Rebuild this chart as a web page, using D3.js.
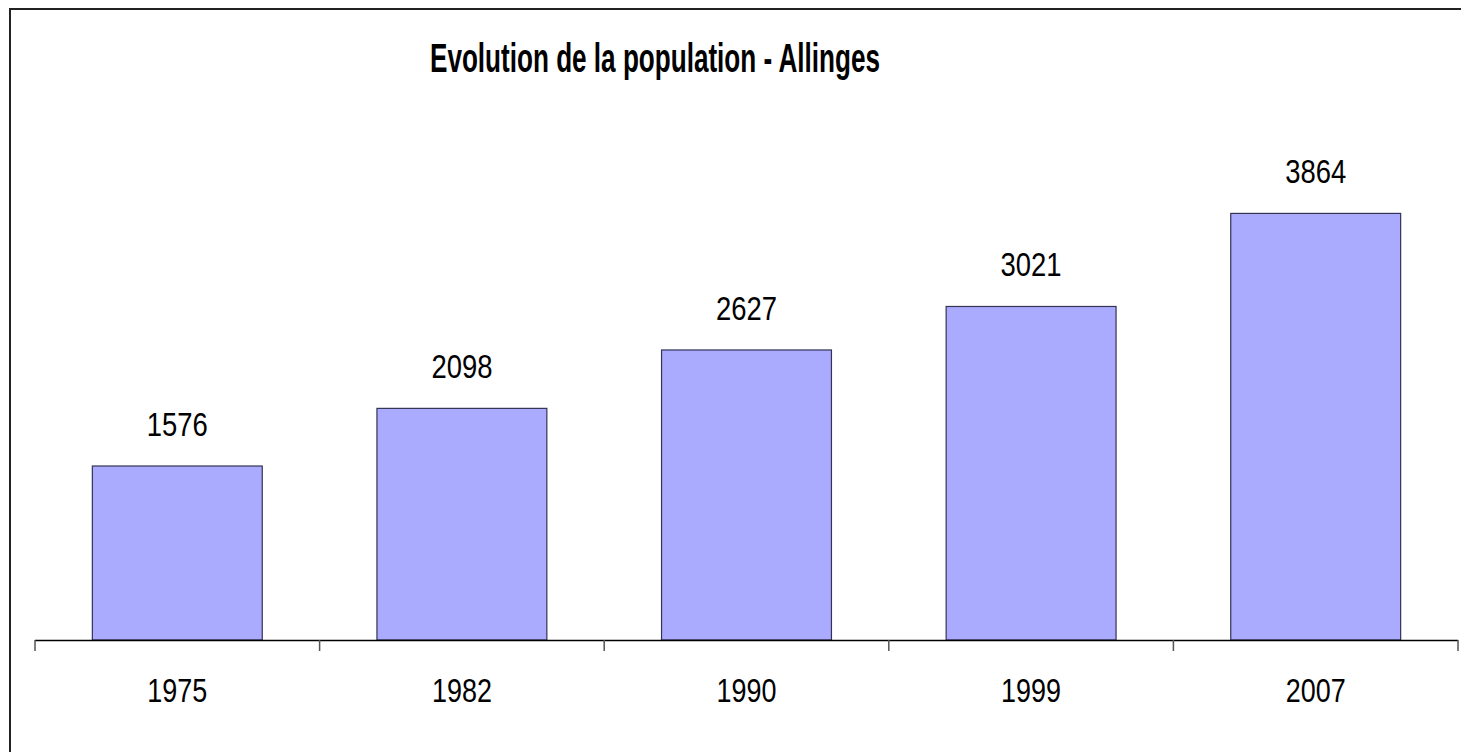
<!DOCTYPE html>
<html>
<head>
<meta charset="utf-8">
<script src="https://cdn.jsdelivr.net/npm/d3@7"></script>
<style>
  html, body { margin: 0; padding: 0; background: #fff; }
  svg { display: block; }
  text { font-family: "Liberation Sans", Arial, sans-serif; }
</style>
</head>
<body>
<svg id="chart" width="1461" height="752"></svg>
<script>
const years = ["1975", "1982", "1990", "1999", "2007"];
const population = [1576, 2098, 2627, 3021, 3864];
const titleText = "Evolution de la population - Allinges";

const svg = d3.select("#chart");
const W = 1461, H = 752;

svg.append("rect").attr("width", W).attr("height", H).attr("fill", "#fff");

// outer frame (cut off at right and bottom)
svg.append("path")
  .attr("d", `M10,${H + 5} L10,9 L${W + 5},9`)
  .attr("fill", "none").attr("stroke", "#222").attr("stroke-width", 2);

const x = d3.scaleBand().domain(years).range([35, 1458]).paddingInner(0.403).paddingOuter(0.2015);
const y = d3.scaleLinear().domain([0, 4000]).range([640, 640 - 4000 * 0.1104]);

svg.append("text")
  .attr("x", 655).attr("y", 72)
  .attr("text-anchor", "middle")
  .attr("font-weight", "bold")
  .attr("font-size", 41)
  .attr("textLength", 450)
  .attr("lengthAdjust", "spacingAndGlyphs")
  .attr("fill", "#000")
  .text(titleText);

svg.selectAll("rect.bar").data(population).join("rect")
  .attr("class", "bar")
  .attr("x", (d, i) => x(years[i]))
  .attr("y", d => y(d))
  .attr("width", x.bandwidth())
  .attr("height", d => y(0) - y(d))
  .attr("fill", "#AAAAFF")
  .attr("stroke", "#333355")
  .attr("stroke-width", 1.2);

svg.selectAll("text.val").data(population).join("text")
  .attr("class", "val")
  .attr("x", (d, i) => x(years[i]) + x.bandwidth() / 2)
  .attr("y", d => y(d) - 30)
  .attr("text-anchor", "middle")
  .attr("font-size", 33)
  .attr("textLength", 61)
  .attr("lengthAdjust", "spacingAndGlyphs")
  .attr("fill", "#000")
  .text(d => d);

// x axis
const axisG = svg.append("g");
axisG.append("line")
  .attr("x1", 35).attr("x2", 1458).attr("y1", 640.5).attr("y2", 640.5)
  .attr("stroke", "#000").attr("stroke-width", 1.5);
const boundaries = [0, ...years.map((d, i) => i + 1)];
const step = x.step();
axisG.selectAll("line.tick").data(boundaries).join("line")
  .attr("class", "tick")
  .attr("x1", i => 35 + i * step).attr("x2", i => 35 + i * step)
  .attr("y1", 640).attr("y2", 651)
  .attr("stroke", "#555").attr("stroke-width", 1.5);

axisG.selectAll("text.yr").data(years).join("text")
  .attr("class", "yr")
  .attr("x", d => x(d) + x.bandwidth() / 2)
  .attr("y", 702)
  .attr("text-anchor", "middle")
  .attr("font-size", 34)
  .attr("textLength", 60)
  .attr("lengthAdjust", "spacingAndGlyphs")
  .attr("fill", "#000")
  .text(d => d);
</script>
</body>
</html>
